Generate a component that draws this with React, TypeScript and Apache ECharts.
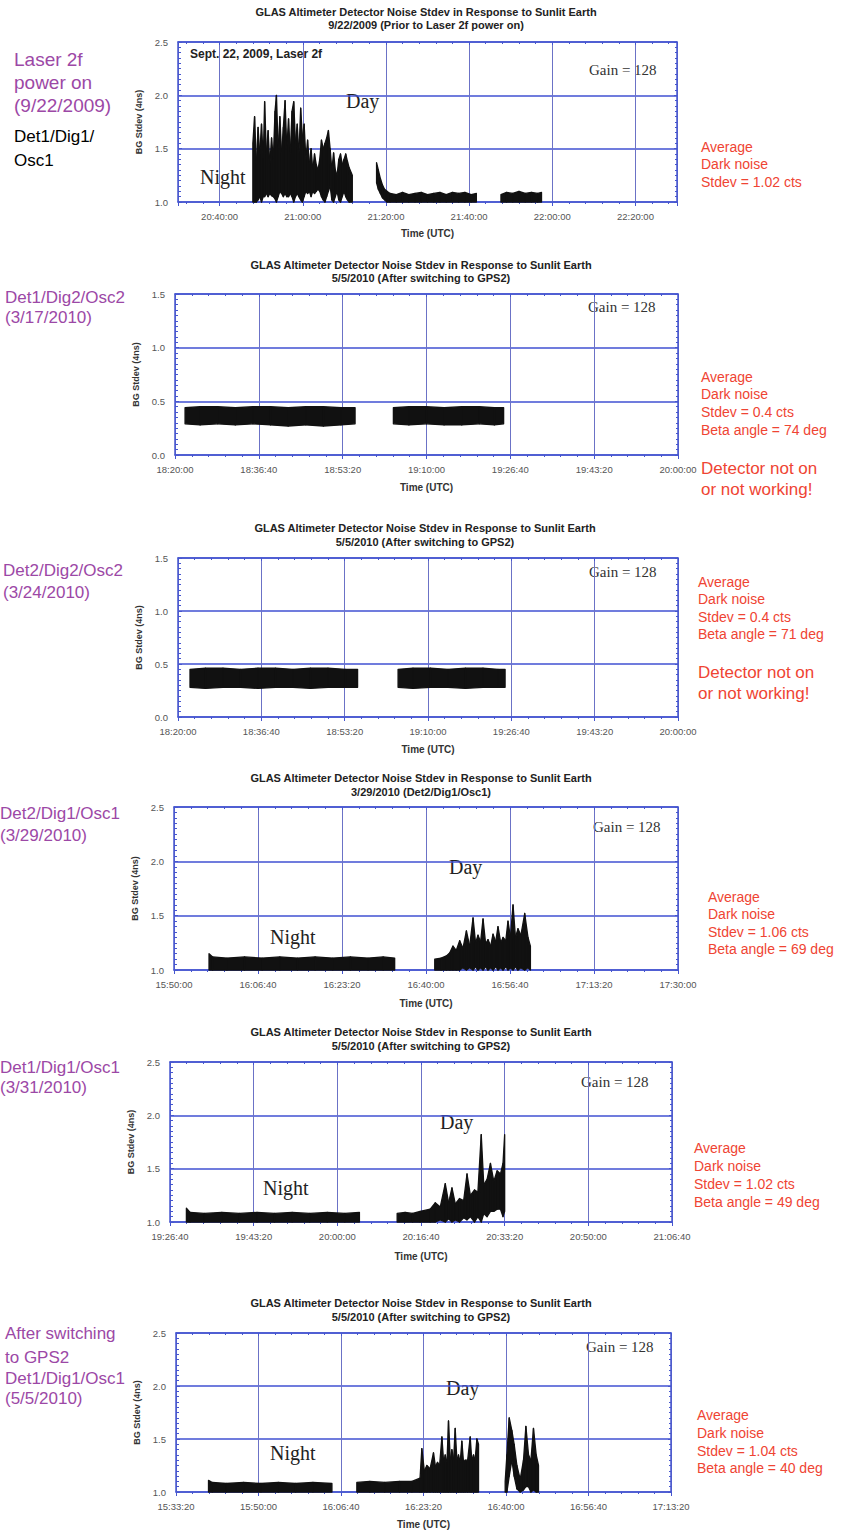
import React, { useEffect, useRef } from 'react';
import * as echarts from 'echarts';

type Row = [string, number, number]; // time (UTC), lower envelope, upper envelope

// ---------------- text content ----------------
const TITLE_LINE1 = 'GLAS Altimeter Detector Noise Stdev in Response to Sunlit Earth';
const SUBTITLES = [
  '9/22/2009 (Prior to Laser 2f power on)',
  '5/5/2010 (After switching to GPS2)',
  '5/5/2010 (After switching to GPS2)',
  '3/29/2010 (Det2/Dig1/Osc1)',
  '5/5/2010 (After switching to GPS2)',
  '5/5/2010 (After switching to GPS2)',
];
const X_NAME = 'Time (UTC)';
const Y_NAME = 'BG Stdev (4ns)';
const GAIN = 'Gain = 128';
const DAY = 'Day';
const NIGHT = 'Night';
const SEPT_NOTE = 'Sept. 22, 2009, Laser 2f';
const LEFT_NOTES: string[][] = [
  ['Laser 2f', 'power on', '(9/22/2009)', 'Det1/Dig1/', 'Osc1'],
  ['Det1/Dig2/Osc2', '(3/17/2010)'],
  ['Det2/Dig2/Osc2', '(3/24/2010)'],
  ['Det2/Dig1/Osc1', '(3/29/2010)'],
  ['Det1/Dig1/Osc1', '(3/31/2010)'],
  ['After switching', 'to GPS2', 'Det1/Dig1/Osc1', '(5/5/2010)'],
];
const RIGHT_NOTES: string[][] = [
  ['Average', 'Dark noise', 'Stdev = 1.02 cts'],
  ['Average', 'Dark noise', 'Stdev = 0.4 cts', 'Beta angle = 74 deg'],
  ['Average', 'Dark noise', 'Stdev = 0.4 cts', 'Beta angle = 71 deg'],
  ['Average', 'Dark noise', 'Stdev = 1.06 cts', 'Beta angle = 69 deg'],
  ['Average', 'Dark noise', 'Stdev = 1.02 cts', 'Beta angle = 49 deg'],
  ['Average', 'Dark noise', 'Stdev = 1.04 cts', 'Beta angle = 40 deg'],
];
const WARNING = ['Detector not on', 'or not working!'];

// ---------------- axes ----------------
const X_RANGES: [string, string, number][] = [
  ['20:30:00', '22:30:00', 1200],
  ['18:20:00', '20:00:00', 1000],
  ['18:20:00', '20:00:00', 1000],
  ['15:50:00', '17:30:00', 1000],
  ['19:26:40', '21:06:40', 1000],
  ['15:33:20', '17:13:20', 1000],
];
const Y_RANGES: [number, number, number][] = [
  [1.0, 2.5, 0.5],
  [0.0, 1.5, 0.5],
  [0.0, 1.5, 0.5],
  [1.0, 2.5, 0.5],
  [1.0, 2.5, 0.5],
  [1.0, 2.5, 0.5],
];

// ---------------- data (noise envelopes) ----------------
const P1_DAY: Row[] = [
  ['20:48:00', 1.0, 1.55], ['20:48:25', 1.0, 1.8], ['20:48:50', 1.0, 1.35], ['20:49:15', 1.02, 1.7],
  ['20:49:40', 1.05, 1.45], ['20:50:05', 1.0, 1.73], ['20:50:30', 1.05, 1.4], ['20:50:50', 1.05, 1.94],
  ['20:51:15', 1.08, 1.45], ['20:51:40', 1.05, 1.67], ['20:52:05', 1.08, 1.35], ['20:52:30', 1.06, 1.6],
  ['20:52:55', 1.05, 1.4], ['20:53:20', 1.03, 1.85], ['20:53:40', 1.0, 2.0], ['20:54:05', 1.05, 1.5],
  ['20:54:30', 1.1, 1.8], ['20:54:55', 1.08, 1.45], ['20:55:20', 1.05, 1.7], ['20:55:45', 1.08, 1.95],
  ['20:56:10', 1.05, 1.5], ['20:56:35', 1.05, 1.78], ['20:57:00', 1.08, 1.45], ['20:57:25', 1.05, 1.85],
  ['20:57:50', 1.0, 1.94], ['20:58:15', 1.05, 1.55], ['20:58:40', 1.08, 1.73], ['20:59:05', 1.05, 1.45],
  ['20:59:30', 1.02, 1.88], ['20:59:55', 1.0, 1.6], ['21:00:20', 1.05, 1.73], ['21:00:45', 1.1, 1.4],
  ['21:01:10', 1.08, 1.58], ['21:01:35', 1.1, 1.35], ['21:02:00', 1.05, 1.5], ['21:02:25', 1.1, 1.3],
  ['21:02:50', 1.08, 1.45], ['21:03:15', 1.1, 1.35], ['21:03:40', 1.12, 1.3], ['21:04:05', 1.1, 1.4],
  ['21:04:30', 1.05, 1.58], ['21:04:55', 1.02, 1.5], ['21:05:20', 1.0, 1.55], ['21:05:45', 1.05, 1.6],
  ['21:06:10', 1.1, 1.67], ['21:06:35', 1.15, 1.5], ['21:07:00', 1.02, 1.3], ['21:07:25', 1.0, 1.46],
  ['21:07:50', 1.05, 1.3], ['21:08:15', 1.1, 1.25], ['21:08:40', 1.02, 1.4], ['21:09:05', 1.0, 1.45],
  ['21:09:30', 1.05, 1.35], ['21:09:55', 1.1, 1.4], ['21:10:20', 1.05, 1.45], ['21:10:45', 1.02, 1.38],
  ['21:11:10', 1.0, 1.32], ['21:11:55', 1.0, 1.25],
];
const P1_DECAY: Row[] = [
  ['21:17:45', 1.18, 1.37], ['21:18:10', 1.12, 1.3], ['21:18:40', 1.08, 1.22], ['21:19:10', 1.04, 1.16],
  ['21:19:40', 1.02, 1.12], ['21:20:15', 1.0, 1.1], ['21:21:00', 1.0, 1.08], ['21:22:30', 1.0, 1.07],
  ['21:24:00', 1.0, 1.09], ['21:25:30', 1.0, 1.07], ['21:27:00', 1.0, 1.08], ['21:28:30', 1.0, 1.09],
  ['21:30:00', 1.0, 1.07], ['21:31:30', 1.0, 1.08], ['21:33:00', 1.0, 1.09], ['21:34:30', 1.0, 1.07],
  ['21:36:00', 1.0, 1.09], ['21:37:30', 1.0, 1.08], ['21:39:00', 1.0, 1.09], ['21:40:30', 1.0, 1.07],
  ['21:41:45', 1.0, 1.08],
];
const P1_LATE: Row[] = [
  ['21:47:40', 1.0, 1.07], ['21:49:00', 1.0, 1.09], ['21:50:30', 1.0, 1.08], ['21:52:00', 1.0, 1.1],
  ['21:53:30', 1.0, 1.08], ['21:55:00', 1.0, 1.09], ['21:56:30', 1.0, 1.08], ['21:57:25', 1.0, 1.09],
];
const P2_A: Row[] = [
  ['18:22:00', 0.29, 0.44], ['18:25:00', 0.28, 0.45], ['18:28:30', 0.29, 0.45], ['18:32:00', 0.28, 0.44],
  ['18:35:30', 0.29, 0.45], ['18:39:00', 0.28, 0.45], ['18:42:30', 0.27, 0.44], ['18:46:00', 0.28, 0.45],
  ['18:49:30', 0.27, 0.45], ['18:53:00', 0.28, 0.44], ['18:55:48', 0.29, 0.44],
];
const P2_B: Row[] = [
  ['19:03:25', 0.29, 0.44], ['19:06:30', 0.28, 0.45], ['19:10:00', 0.29, 0.45], ['19:13:30', 0.28, 0.44],
  ['19:17:00', 0.28, 0.45], ['19:20:30', 0.29, 0.45], ['19:23:30', 0.28, 0.44], ['19:25:20', 0.29, 0.44],
];
const P3_A: Row[] = [
  ['18:22:24', 0.28, 0.45], ['18:25:30', 0.27, 0.46], ['18:29:00', 0.28, 0.46], ['18:32:30', 0.28, 0.45],
  ['18:36:00', 0.27, 0.46], ['18:39:30', 0.28, 0.46], ['18:43:00', 0.28, 0.45], ['18:46:30', 0.27, 0.46],
  ['18:50:00', 0.28, 0.46], ['18:53:30', 0.28, 0.45], ['18:55:55', 0.28, 0.45],
];
const P3_B: Row[] = [
  ['19:04:01', 0.28, 0.45], ['19:07:00', 0.27, 0.46], ['19:10:30', 0.28, 0.46], ['19:14:00', 0.28, 0.45],
  ['19:17:30', 0.27, 0.46], ['19:21:00', 0.28, 0.46], ['19:24:00', 0.28, 0.45], ['19:25:25', 0.28, 0.45],
];
const P4_NIGHT: Row[] = [
  ['15:56:57', 1.0, 1.15], ['15:57:40', 1.0, 1.12], ['16:00:30', 1.0, 1.11], ['16:04:00', 1.0, 1.12],
  ['16:07:30', 1.0, 1.11], ['16:11:00', 1.0, 1.12], ['16:14:30', 1.0, 1.11], ['16:18:00', 1.0, 1.12],
  ['16:21:30', 1.0, 1.11], ['16:25:00', 1.0, 1.12], ['16:28:30', 1.0, 1.11], ['16:31:30', 1.0, 1.12],
  ['16:33:47', 1.0, 1.11],
];
const P4_DAY: Row[] = [
  ['16:41:44', 1.0, 1.1], ['16:43:00', 1.0, 1.11], ['16:44:03', 1.0, 1.13], ['16:44:45', 1.0, 1.16],
  ['16:45:21', 1.0, 1.22], ['16:46:00', 1.0, 1.18], ['16:46:41', 1.0, 1.27], ['16:47:20', 1.02, 1.2],
  ['16:48:01', 1.0, 1.36], ['16:48:40', 1.02, 1.22], ['16:49:20', 1.0, 1.48], ['16:49:50', 1.03, 1.25],
  ['16:50:19', 1.0, 1.32], ['16:50:50', 1.02, 1.26], ['16:51:19', 1.0, 1.47], ['16:51:50', 1.03, 1.24],
  ['16:52:18', 1.0, 1.28], ['16:52:50', 1.02, 1.22], ['16:53:18', 1.0, 1.33], ['16:53:50', 1.03, 1.26],
  ['16:54:17', 1.0, 1.4], ['16:54:50', 1.02, 1.25], ['16:55:17', 1.0, 1.3], ['16:55:50', 1.03, 1.27],
  ['16:56:16', 1.0, 1.45], ['16:56:45', 1.02, 1.3], ['16:57:16', 1.0, 1.6], ['16:57:45', 1.03, 1.3],
  ['16:58:15', 1.0, 1.38], ['16:58:50', 1.02, 1.32], ['16:59:35', 1.0, 1.52], ['17:00:14', 1.02, 1.3],
  ['17:00:43', 1.0, 1.22],
];
const P5_NIGHT: Row[] = [
  ['19:29:56', 1.0, 1.13], ['19:30:40', 1.0, 1.09], ['19:33:30', 1.0, 1.08], ['19:37:00', 1.0, 1.09],
  ['19:40:30', 1.0, 1.08], ['19:44:00', 1.0, 1.09], ['19:47:30', 1.0, 1.08], ['19:51:00', 1.0, 1.09],
  ['19:54:30', 1.0, 1.08], ['19:58:00', 1.0, 1.09], ['20:01:30', 1.0, 1.08], ['20:04:24', 1.0, 1.09],
];
const P5_DAY: Row[] = [
  ['20:11:55', 1.0, 1.08], ['20:13:30', 1.0, 1.09], ['20:15:00', 1.0, 1.08], ['20:16:30', 1.0, 1.1],
  ['20:18:30', 1.0, 1.12], ['20:19:30', 1.0, 1.18], ['20:20:30', 1.02, 1.14], ['20:21:30', 1.0, 1.36],
  ['20:22:10', 1.03, 1.18], ['20:22:50', 1.0, 1.32], ['20:23:30', 1.02, 1.17], ['20:24:20', 1.0, 1.22],
  ['20:25:10', 1.04, 1.2], ['20:25:50', 1.02, 1.45], ['20:26:30', 1.05, 1.25], ['20:27:20', 1.0, 1.3],
  ['20:28:00', 1.05, 1.28], ['20:28:40', 1.0, 1.82], ['20:29:10', 1.08, 1.35], ['20:29:50', 1.05, 1.4],
  ['20:30:30', 1.1, 1.55], ['20:31:10', 1.1, 1.38], ['20:31:50', 1.12, 1.48], ['20:32:30', 1.12, 1.45],
  ['20:33:00', 1.05, 1.55], ['20:33:20', 1.1, 1.82],
];
const P6_NIGHT: Row[] = [
  ['15:39:54', 1.0, 1.11], ['15:40:40', 1.0, 1.09], ['15:43:30', 1.0, 1.08], ['15:47:00', 1.0, 1.09],
  ['15:50:30', 1.0, 1.08], ['15:54:00', 1.0, 1.09], ['15:57:30', 1.0, 1.08], ['16:01:00', 1.0, 1.09],
  ['16:04:50', 1.0, 1.08],
];
const P6_DAY1: Row[] = [
  ['16:09:52', 1.0, 1.09], ['16:12:30', 1.0, 1.1], ['16:15:30', 1.0, 1.09], ['16:18:30', 1.0, 1.1],
  ['16:21:00', 1.0, 1.1], ['16:22:38', 1.0, 1.13], ['16:23:00', 1.0, 1.41], ['16:23:30', 1.0, 1.2],
  ['16:24:01', 1.0, 1.25], ['16:24:40', 1.0, 1.22], ['16:25:21', 1.0, 1.37], ['16:25:45', 1.0, 1.24],
  ['16:26:10', 1.0, 1.28], ['16:26:35', 1.0, 1.25], ['16:27:03', 1.0, 1.52], ['16:27:25', 1.0, 1.27],
  ['16:27:43', 1.0, 1.35], ['16:28:05', 1.0, 1.28], ['16:28:23', 1.0, 1.67], ['16:28:45', 1.0, 1.3],
  ['16:29:04', 1.0, 1.4], ['16:29:25', 1.0, 1.3], ['16:29:44', 1.0, 1.6], ['16:30:05', 1.0, 1.3],
  ['16:30:24', 1.0, 1.35], ['16:30:45', 1.0, 1.28], ['16:31:05', 1.0, 1.48], ['16:31:25', 1.0, 1.28],
  ['16:31:45', 1.0, 1.3], ['16:32:15', 1.0, 1.3], ['16:32:46', 1.0, 1.52], ['16:33:05', 1.0, 1.3],
  ['16:33:26', 1.0, 1.35], ['16:33:45', 1.0, 1.3], ['16:34:07', 1.0, 1.5], ['16:34:27', 1.0, 1.45],
];
const P6_DAY2: Row[] = [
  ['16:39:50', 1.0, 1.1], ['16:40:11', 1.0, 1.35], ['16:40:39', 1.15, 1.7], ['16:41:11', 1.3, 1.58],
  ['16:41:39', 1.15, 1.45], ['16:42:12', 1.03, 1.25], ['16:42:52', 1.0, 1.12], ['16:43:32', 1.02, 1.3],
  ['16:44:01', 1.05, 1.62], ['16:44:33', 1.05, 1.35], ['16:45:02', 1.0, 1.3], ['16:45:33', 1.02, 1.6],
  ['16:46:06', 1.0, 1.35], ['16:46:34', 1.0, 1.25],
];
const PANEL_DATA: Row[][][] = [
  [P1_DAY, P1_DECAY, P1_LATE],
  [P2_A, P2_B],
  [P3_A, P3_B],
  [P4_NIGHT, P4_DAY],
  [P5_NIGHT, P5_DAY],
  [P6_NIGHT, P6_DAY1, P6_DAY2],
];

// ---------------- layout (positions & sizes) ----------------
interface Layout {
  grid: [number, number, number, number];
  titleX: number;
  titleY: [number, number];
  xGap: number;
  yGap: number;
  leftX: number;
  leftY: number[];
  rightX: number;
  rightY: number[];
  warnY?: number[];
  gain: [number, number];
  day?: [number, number];
  night?: [number, number];
}
const LAYOUT: Layout[] = [
  { grid: [178, 42, 499, 160], titleX: 426, titleY: [12, 25], xGap: 26, yGap: 30, leftX: 14, leftY: [59, 82, 105, 136, 160], rightX: 701, rightY: [147, 164, 182], gain: [589, 70], day: [346, 101], night: [200, 177] },
  { grid: [175, 294, 503, 161], titleX: 421, titleY: [265, 278], xGap: 27, yGap: 34, leftX: 5, leftY: [297, 317], rightX: 701, rightY: [377, 394, 412, 430], warnY: [468, 489], gain: [588, 307] },
  { grid: [178, 558, 500, 159], titleX: 425, titleY: [528, 542], xGap: 27, yGap: 33, leftX: 3, leftY: [570, 592], rightX: 698, rightY: [582, 599, 617, 634], warnY: [672, 693], gain: [589, 572] },
  { grid: [174, 807, 504, 163], titleX: 421, titleY: [778, 792], xGap: 28, yGap: 34, leftX: 0, leftY: [813, 835], rightX: 708, rightY: [897, 914, 932, 949], gain: [593, 827], day: [449, 867], night: [270, 937] },
  { grid: [170, 1062, 502, 160], titleX: 421, titleY: [1032, 1046], xGap: 29, yGap: 34, leftX: 0, leftY: [1067, 1087], rightX: 694, rightY: [1148, 1166, 1184, 1202], gain: [581, 1082], day: [440, 1122], night: [263, 1188] },
  { grid: [176, 1333, 495, 159], titleX: 421, titleY: [1303, 1317], xGap: 27, yGap: 34, leftX: 5, leftY: [1333, 1357, 1378, 1398], rightX: 697, rightY: [1415, 1433, 1451, 1468], gain: [586, 1347], day: [446, 1388], night: [270, 1453] },
];

const SANS = '"Liberation Sans", Arial, sans-serif';
const SERIF = '"Liberation Serif", "Times New Roman", serif';
const AX = '#4656cf';
const GRID_H = '#4050d2';
const GRID_V = '#6b72c6';
const PURPLE = '#9c48a6';
const RED = '#ef4433';
const INK = '#111111';

const toSec = (s: string): number => {
  const [h, m, x] = s.split(':').map(Number);
  return h * 3600 + m * 60 + x;
};
const pad = (n: number) => String(n).padStart(2, '0');
const fmtTime = (v: number): string => {
  const t = Math.round(v);
  return `${pad(Math.floor(t / 3600))}:${pad(Math.floor((t % 3600) / 60))}:${pad(t % 60)}`;
};

const txt = (x: number, y: number, text: string, font: string, fill: string, align = 'left') => ({
  type: 'text',
  x,
  y,
  silent: true,
  style: { text, font, fill, align, verticalAlign: 'middle' },
});

// each band piece: a quad between two consecutive envelope samples, placed via the axes
const renderBand = (_params: any, api: any) => {
  const a = api.coord([api.value(0), api.value(1)]);
  const b = api.coord([api.value(0), api.value(2)]);
  const c = api.coord([api.value(3), api.value(5)]);
  const d = api.coord([api.value(3), api.value(4)]);
  return {
    type: 'polygon',
    shape: { points: [a, b, c, d] },
    style: { fill: INK, stroke: INK, lineWidth: 1.3, lineJoin: 'round' },
  };
};

function buildOption(): any {
  const grid: any[] = [];
  const xAxis: any[] = [];
  const yAxis: any[] = [];
  const series: any[] = [];
  const graphic: any[] = [];

  LAYOUT.forEach((L) => {
    grid.push({ left: L.grid[0], top: L.grid[1], width: L.grid[2], height: L.grid[3], show: false });
  });

  // primary axes
  LAYOUT.forEach((L, i) => {
    const [xs, xe, step] = X_RANGES[i];
    const [y0, y1, ys] = Y_RANGES[i];
    const xTickCfg = i === 0 ? { minInterval: step, maxInterval: step } : { interval: step };
    xAxis.push({
      type: 'value', gridIndex: i, position: 'bottom', min: toSec(xs), max: toSec(xe), ...xTickCfg,
      axisLine: { show: true, onZero: false, lineStyle: { color: AX, width: 1.5 } },
      axisTick: { show: true, inside: false, length: 4, lineStyle: { color: AX } },
      minorTick: { show: true, splitNumber: 5, length: 2, lineStyle: { color: AX } },
      splitLine: { show: true, lineStyle: { color: GRID_V, width: 1 } },
      axisLabel: {
        formatter: (v: number) => fmtTime(v), color: '#555', fontSize: 9.5, fontFamily: SANS, margin: 9,
        showMinLabel: i !== 0, showMaxLabel: i !== 0,
      },
      name: X_NAME, nameLocation: 'middle', nameGap: L.xGap,
      nameTextStyle: { fontWeight: 'bold', fontSize: 10, color: '#333', fontFamily: SANS },
    });
    yAxis.push({
      type: 'value', gridIndex: i, position: 'left', min: y0, max: y1, interval: ys,
      axisLine: { show: true, onZero: false, lineStyle: { color: AX, width: 1.5 } },
      axisTick: { show: true, inside: true, length: 4, lineStyle: { color: AX } },
      minorTick: { show: true, splitNumber: 10, length: 3, lineStyle: { color: AX } },
      splitLine: { show: true, lineStyle: { color: GRID_H, width: 1.5 } },
      axisLabel: { formatter: (v: number) => v.toFixed(1), color: '#555', fontSize: 9.5, fontFamily: SANS, margin: 10 },
      name: Y_NAME, nameLocation: 'middle', nameGap: L.yGap,
      nameTextStyle: { fontWeight: 'bold', fontSize: 9, color: '#333', fontFamily: SANS },
    });
  });
  // secondary (frame) axes: top and right
  LAYOUT.forEach((L, i) => {
    const [xs, xe, step] = X_RANGES[i];
    const [y0, y1, ys] = Y_RANGES[i];
    const xTickCfg = i === 0 ? { minInterval: step, maxInterval: step } : { interval: step };
    xAxis.push({
      type: 'value', gridIndex: i, position: 'top', min: toSec(xs), max: toSec(xe), ...xTickCfg,
      axisLine: { show: true, onZero: false, lineStyle: { color: AX, width: 1.5 } },
      axisTick: { show: true, inside: true, length: 3, lineStyle: { color: AX } },
      minorTick: { show: true, splitNumber: 5, length: 2, lineStyle: { color: AX } },
      splitLine: { show: false },
      axisLabel: { show: false },
    });
    yAxis.push({
      type: 'value', gridIndex: i, position: 'right', min: y0, max: y1, interval: ys,
      axisLine: { show: true, onZero: false, lineStyle: { color: AX, width: 1.5 } },
      axisTick: { show: true, inside: true, length: 3, lineStyle: { color: AX } },
      minorTick: { show: true, splitNumber: 10, length: 2, lineStyle: { color: AX } },
      splitLine: { show: false },
      axisLabel: { show: false },
    });
  });

  // series: each noise segment drawn as a filled band between lower and upper envelope
  PANEL_DATA.forEach((segments, i) => {
    segments.forEach((rows) => {
      series.push({
        type: 'custom', xAxisIndex: i, yAxisIndex: i, silent: true, z: 3,
        data: rows.slice(0, -1).map((r, k) => [
          toSec(r[0]), r[1], r[2], toSec(rows[k + 1][0]), rows[k + 1][1], rows[k + 1][2],
        ]),
        encode: { x: [0, 3], y: [1, 2, 4, 5] },
        renderItem: renderBand,
      });
    });
  });

  // texts
  LAYOUT.forEach((L, i) => {
    graphic.push(txt(L.titleX, L.titleY[0], TITLE_LINE1, `bold 11px ${SANS}`, '#222', 'center'));
    graphic.push(txt(L.titleX, L.titleY[1], SUBTITLES[i], `bold 11px ${SANS}`, '#222', 'center'));
    LEFT_NOTES[i].forEach((t, k) => {
      const isBlack = i === 0 && k >= 3;
      const font = i === 0 ? (isBlack ? `17px ${SANS}` : `19px ${SANS}`) : `17px ${SANS}`;
      graphic.push(txt(L.leftX, L.leftY[k], t, font, isBlack ? '#000' : PURPLE));
    });
    RIGHT_NOTES[i].forEach((t, k) => {
      graphic.push(txt(L.rightX, L.rightY[k], t, `14px ${SANS}`, RED));
    });
    if (L.warnY) {
      WARNING.forEach((t, k) => graphic.push(txt(L.rightX, L.warnY![k], t, `17px ${SANS}`, RED)));
    }
    graphic.push(txt(L.gain[0], L.gain[1], GAIN, `15px ${SERIF}`, '#333'));
    if (L.day) graphic.push(txt(L.day[0], L.day[1], DAY, `20px ${SERIF}`, '#222'));
    if (L.night) graphic.push(txt(L.night[0], L.night[1], NIGHT, `20px ${SERIF}`, '#222'));
  });
  graphic.push(txt(190, 54, SEPT_NOTE, `bold 12px ${SANS}`, '#222'));

  return {
    animation: false,
    backgroundColor: '#ffffff',
    grid,
    xAxis,
    yAxis,
    series,
    graphic,
  };
}

export default function App() {
  const ref = useRef<HTMLDivElement>(null);
  useEffect(() => {
    if (!ref.current) return;
    const chart = echarts.init(ref.current, undefined, { renderer: 'svg' });
    chart.setOption(buildOption());
    return () => chart.dispose();
  }, []);
  return (
    <div
      ref={ref}
      style={{ position: 'absolute', left: 0, top: 0, width: 847, height: 1531, background: '#fff' }}
    />
  );
}
